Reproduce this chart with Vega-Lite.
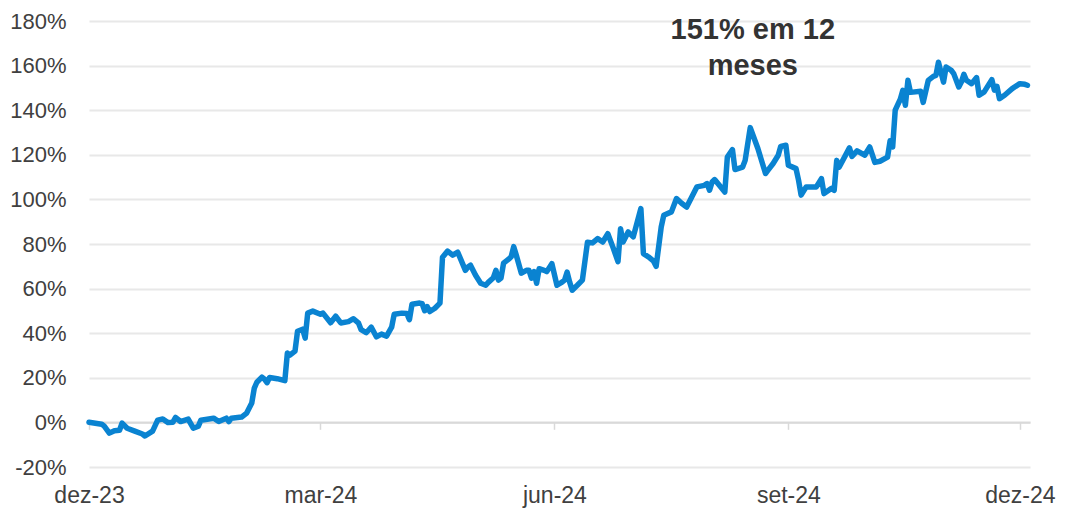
{
  "$schema": "https://vega.github.io/schema/vega-lite/v6.json",
  "autosize": "none",
  "width": 941,
  "height": 446,
  "padding": {"left": 89, "top": 21, "right": 37, "bottom": 45},
  "background": "white",
  "config": {"view": {"stroke": null}, "font": "Liberation Sans"},
  "datasets": {
    "series": [
      {"date": "2023-12-01", "value": 0.1},
      {"date": "2023-12-06", "value": -0.8},
      {"date": "2023-12-07", "value": -1.7},
      {"date": "2023-12-09", "value": -4.8},
      {"date": "2023-12-11", "value": -3.7},
      {"date": "2023-12-13", "value": -3.5},
      {"date": "2023-12-14", "value": -0.3},
      {"date": "2023-12-16", "value": -2.6},
      {"date": "2023-12-19", "value": -3.9},
      {"date": "2023-12-22", "value": -5.2},
      {"date": "2023-12-23", "value": -6.1},
      {"date": "2023-12-26", "value": -3.9},
      {"date": "2023-12-28", "value": 1.0},
      {"date": "2023-12-30", "value": 1.5},
      {"date": "2024-01-01", "value": -0.1},
      {"date": "2024-01-03", "value": 0.1},
      {"date": "2024-01-04", "value": 2.2},
      {"date": "2024-01-06", "value": 0.4},
      {"date": "2024-01-09", "value": 1.5},
      {"date": "2024-01-11", "value": -2.6},
      {"date": "2024-01-13", "value": -1.7},
      {"date": "2024-01-14", "value": 1.0},
      {"date": "2024-01-19", "value": 1.9},
      {"date": "2024-01-21", "value": 0.4},
      {"date": "2024-01-24", "value": 1.9},
      {"date": "2024-01-25", "value": 0.4},
      {"date": "2024-01-26", "value": 1.9},
      {"date": "2024-01-30", "value": 2.4},
      {"date": "2024-02-01", "value": 4.2},
      {"date": "2024-02-03", "value": 8.7},
      {"date": "2024-02-04", "value": 15.4},
      {"date": "2024-02-05", "value": 18.0},
      {"date": "2024-02-07", "value": 20.3},
      {"date": "2024-02-08", "value": 19.4},
      {"date": "2024-02-09", "value": 17.8},
      {"date": "2024-02-10", "value": 20.1},
      {"date": "2024-02-13", "value": 19.6},
      {"date": "2024-02-16", "value": 18.7},
      {"date": "2024-02-17", "value": 31.1},
      {"date": "2024-02-18", "value": 30.2},
      {"date": "2024-02-20", "value": 32.0},
      {"date": "2024-02-21", "value": 40.9},
      {"date": "2024-02-23", "value": 41.8},
      {"date": "2024-02-24", "value": 37.8},
      {"date": "2024-02-25", "value": 49.0},
      {"date": "2024-02-27", "value": 49.9},
      {"date": "2024-03-01", "value": 48.5},
      {"date": "2024-03-02", "value": 49.0},
      {"date": "2024-03-05", "value": 44.7},
      {"date": "2024-03-07", "value": 47.6},
      {"date": "2024-03-09", "value": 44.6},
      {"date": "2024-03-12", "value": 45.2},
      {"date": "2024-03-14", "value": 46.5},
      {"date": "2024-03-16", "value": 44.5},
      {"date": "2024-03-17", "value": 41.6},
      {"date": "2024-03-19", "value": 40.2},
      {"date": "2024-03-21", "value": 42.7},
      {"date": "2024-03-23", "value": 38.4},
      {"date": "2024-03-25", "value": 39.6},
      {"date": "2024-03-27", "value": 38.7},
      {"date": "2024-03-29", "value": 42.7},
      {"date": "2024-03-30", "value": 48.5},
      {"date": "2024-04-02", "value": 49.0},
      {"date": "2024-04-04", "value": 48.8},
      {"date": "2024-04-05", "value": 46.1},
      {"date": "2024-04-06", "value": 53.0},
      {"date": "2024-04-09", "value": 53.5},
      {"date": "2024-04-10", "value": 53.2},
      {"date": "2024-04-11", "value": 50.1},
      {"date": "2024-04-12", "value": 51.9},
      {"date": "2024-04-13", "value": 49.7},
      {"date": "2024-04-15", "value": 51.2},
      {"date": "2024-04-17", "value": 53.5},
      {"date": "2024-04-18", "value": 74.1},
      {"date": "2024-04-20", "value": 76.8},
      {"date": "2024-04-22", "value": 75.0},
      {"date": "2024-04-24", "value": 76.3},
      {"date": "2024-04-27", "value": 68.2},
      {"date": "2024-04-28", "value": 69.7},
      {"date": "2024-04-29", "value": 70.5},
      {"date": "2024-05-01", "value": 66.0},
      {"date": "2024-05-03", "value": 62.4},
      {"date": "2024-05-05", "value": 61.5},
      {"date": "2024-05-06", "value": 62.8},
      {"date": "2024-05-08", "value": 64.9},
      {"date": "2024-05-09", "value": 68.2},
      {"date": "2024-05-10", "value": 63.8},
      {"date": "2024-05-11", "value": 64.7},
      {"date": "2024-05-12", "value": 71.4},
      {"date": "2024-05-14", "value": 73.2},
      {"date": "2024-05-15", "value": 74.3},
      {"date": "2024-05-16", "value": 78.8},
      {"date": "2024-05-17", "value": 75.0},
      {"date": "2024-05-19", "value": 66.9},
      {"date": "2024-05-21", "value": 68.2},
      {"date": "2024-05-22", "value": 68.2},
      {"date": "2024-05-23", "value": 64.7},
      {"date": "2024-05-24", "value": 67.6},
      {"date": "2024-05-25", "value": 62.4},
      {"date": "2024-05-26", "value": 68.9},
      {"date": "2024-05-28", "value": 68.2},
      {"date": "2024-05-29", "value": 67.6},
      {"date": "2024-05-31", "value": 71.2},
      {"date": "2024-06-02", "value": 61.5},
      {"date": "2024-06-04", "value": 62.9},
      {"date": "2024-06-05", "value": 63.8},
      {"date": "2024-06-06", "value": 67.4},
      {"date": "2024-06-07", "value": 62.9},
      {"date": "2024-06-08", "value": 59.3},
      {"date": "2024-06-10", "value": 61.5},
      {"date": "2024-06-12", "value": 63.8},
      {"date": "2024-06-14", "value": 80.8},
      {"date": "2024-06-16", "value": 80.5},
      {"date": "2024-06-18", "value": 82.4},
      {"date": "2024-06-20", "value": 80.9},
      {"date": "2024-06-22", "value": 84.6},
      {"date": "2024-06-24", "value": 78.6},
      {"date": "2024-06-26", "value": 72.1},
      {"date": "2024-06-27", "value": 86.8},
      {"date": "2024-06-28", "value": 80.9},
      {"date": "2024-06-30", "value": 85.4},
      {"date": "2024-07-02", "value": 83.2},
      {"date": "2024-07-05", "value": 95.9},
      {"date": "2024-07-06", "value": 75.7},
      {"date": "2024-07-08", "value": 74.2},
      {"date": "2024-07-10", "value": 72.3},
      {"date": "2024-07-11", "value": 70.0},
      {"date": "2024-07-13", "value": 87.7},
      {"date": "2024-07-14", "value": 92.9},
      {"date": "2024-07-17", "value": 94.4},
      {"date": "2024-07-19", "value": 100.4},
      {"date": "2024-07-21", "value": 98.3},
      {"date": "2024-07-23", "value": 96.6},
      {"date": "2024-07-27", "value": 105.6},
      {"date": "2024-07-30", "value": 106.3},
      {"date": "2024-07-31", "value": 107.1},
      {"date": "2024-08-01", "value": 104.1},
      {"date": "2024-08-02", "value": 107.8},
      {"date": "2024-08-03", "value": 108.9},
      {"date": "2024-08-07", "value": 103.3},
      {"date": "2024-08-08", "value": 119.0},
      {"date": "2024-08-10", "value": 122.3},
      {"date": "2024-08-11", "value": 113.4},
      {"date": "2024-08-14", "value": 114.5},
      {"date": "2024-08-15", "value": 117.5},
      {"date": "2024-08-17", "value": 132.2},
      {"date": "2024-08-20", "value": 122.8},
      {"date": "2024-08-23", "value": 111.6},
      {"date": "2024-08-24", "value": 113.1},
      {"date": "2024-08-26", "value": 116.1},
      {"date": "2024-08-28", "value": 119.8},
      {"date": "2024-08-29", "value": 123.8},
      {"date": "2024-08-31", "value": 124.3},
      {"date": "2024-09-01", "value": 115.3},
      {"date": "2024-09-04", "value": 113.8},
      {"date": "2024-09-05", "value": 108.6},
      {"date": "2024-09-06", "value": 101.9},
      {"date": "2024-09-08", "value": 105.6},
      {"date": "2024-09-12", "value": 105.6},
      {"date": "2024-09-14", "value": 109.3},
      {"date": "2024-09-15", "value": 102.6},
      {"date": "2024-09-18", "value": 105.0},
      {"date": "2024-09-19", "value": 104.1},
      {"date": "2024-09-20", "value": 117.5},
      {"date": "2024-09-21", "value": 114.5},
      {"date": "2024-09-25", "value": 123.1},
      {"date": "2024-09-26", "value": 119.3},
      {"date": "2024-09-28", "value": 121.8},
      {"date": "2024-10-01", "value": 119.8},
      {"date": "2024-10-03", "value": 123.5},
      {"date": "2024-10-05", "value": 116.6},
      {"date": "2024-10-07", "value": 117.1},
      {"date": "2024-10-10", "value": 119.0},
      {"date": "2024-10-11", "value": 126.3},
      {"date": "2024-10-12", "value": 123.5},
      {"date": "2024-10-13", "value": 140.0},
      {"date": "2024-10-15", "value": 144.9},
      {"date": "2024-10-16", "value": 148.9},
      {"date": "2024-10-17", "value": 142.2},
      {"date": "2024-10-18", "value": 153.4},
      {"date": "2024-10-19", "value": 148.0},
      {"date": "2024-10-23", "value": 148.5},
      {"date": "2024-10-24", "value": 143.5},
      {"date": "2024-10-26", "value": 153.4},
      {"date": "2024-10-28", "value": 155.2},
      {"date": "2024-10-29", "value": 155.6},
      {"date": "2024-10-30", "value": 161.5},
      {"date": "2024-11-01", "value": 152.6},
      {"date": "2024-11-02", "value": 159.4},
      {"date": "2024-11-04", "value": 157.9},
      {"date": "2024-11-05", "value": 156.4},
      {"date": "2024-11-07", "value": 150.4},
      {"date": "2024-11-08", "value": 152.6},
      {"date": "2024-11-09", "value": 156.1},
      {"date": "2024-11-10", "value": 153.4},
      {"date": "2024-11-12", "value": 151.9},
      {"date": "2024-11-14", "value": 154.6},
      {"date": "2024-11-15", "value": 146.7},
      {"date": "2024-11-17", "value": 148.2},
      {"date": "2024-11-20", "value": 153.7},
      {"date": "2024-11-21", "value": 149.0},
      {"date": "2024-11-22", "value": 150.7},
      {"date": "2024-11-23", "value": 145.2},
      {"date": "2024-11-25", "value": 146.7},
      {"date": "2024-11-28", "value": 149.7},
      {"date": "2024-12-01", "value": 151.9},
      {"date": "2024-12-03", "value": 151.6},
      {"date": "2024-12-04", "value": 151.2}
    ],
    "note": [
      {"date": "2024-08-18", "value": 175.8, "label": "151% em 12\nmeses"}
    ]
  },
  "layer": [
    {
      "data": {"name": "series"},
      "mark": {"type": "line", "color": "#0a83d1", "strokeWidth": 5.5, "strokeJoin": "round", "strokeCap": "round"},
      "encoding": {
        "x": {
          "field": "date",
          "type": "temporal",
          "scale": {"type": "utc", "domain": [{"year": 2023, "month": 12, "date": 1, "utc": true}, {"year": 2024, "month": 12, "date": 5, "utc": true}]},
          "axis": {
            "title": null,
            "orient": "bottom",
            "offset": -44.7,
            "values": [
              {"year": 2023, "month": 12, "date": 1, "utc": true},
              {"year": 2024, "month": 3, "date": 1, "utc": true},
              {"year": 2024, "month": 6, "date": 1, "utc": true},
              {"year": 2024, "month": 9, "date": 1, "utc": true},
              {"year": 2024, "month": 12, "date": 1, "utc": true}
            ],
            "labelExpr": "['jan','fev','mar','abr','mai','jun','jul','ago','set','out','nov','dez'][utcmonth(datum.value)] + '-' + utcFormat(datum.value, '%y')",
            "grid": false,
            "domain": true,
            "domainColor": "#d9d9d9",
            "domainWidth": 2,
            "ticks": true,
            "tickColor": "#d9d9d9",
            "tickWidth": 1.5,
            "tickSize": 7,
            "labelPadding": 55,
            "labelFontSize": 23,
            "labelColor": "#404040",
            "labelAngle": 0,
            "labelFlush": false,
            "labelOverlap": false
          }
        },
        "y": {
          "field": "value",
          "type": "quantitative",
          "scale": {"domain": [-20, 180], "nice": false, "zero": false},
          "axis": {
            "title": null,
            "values": [-20, 0, 20, 40, 60, 80, 100, 120, 140, 160, 180],
            "labelExpr": "datum.value + '%'",
            "domain": false,
            "ticks": false,
            "grid": true,
            "gridColor": "#e8e8e8",
            "gridWidth": 2,
            "labelPadding": 23,
            "labelFontSize": 22,
            "labelColor": "#404040"
          }
        }
      }
    },
    {
      "data": {"name": "note"},
      "mark": {"type": "text", "fontSize": 29, "fontWeight": "bold", "color": "#333333", "align": "center", "baseline": "middle", "lineBreak": "\n", "lineHeight": 36},
      "encoding": {
        "x": {"field": "date", "type": "temporal"},
        "y": {"field": "value", "type": "quantitative"},
        "text": {"field": "label"}
      }
    }
  ]
}
